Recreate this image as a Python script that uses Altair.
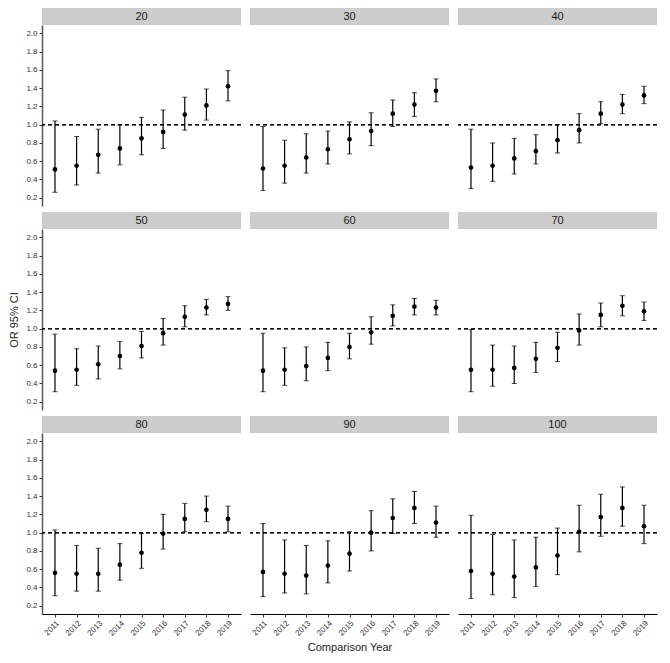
import altair as alt
import pandas as pd

years = ["2011", "2012", "2013", "2014", "2015", "2016", "2017", "2018", "2019"]
panels = [20, 30, 40, 50, 60, 70, 80, 90, 100]

or_est = {
    20:  [0.51, 0.55, 0.67, 0.74, 0.85, 0.92, 1.11, 1.21, 1.42],
    30:  [0.52, 0.55, 0.64, 0.73, 0.84, 0.93, 1.12, 1.22, 1.37],
    40:  [0.53, 0.55, 0.63, 0.71, 0.83, 0.94, 1.12, 1.22, 1.32],
    50:  [0.54, 0.55, 0.61, 0.70, 0.81, 0.95, 1.13, 1.23, 1.27],
    60:  [0.54, 0.55, 0.59, 0.68, 0.80, 0.96, 1.14, 1.24, 1.23],
    70:  [0.55, 0.55, 0.57, 0.67, 0.79, 0.98, 1.15, 1.25, 1.19],
    80:  [0.56, 0.55, 0.55, 0.65, 0.78, 0.99, 1.15, 1.25, 1.15],
    90:  [0.57, 0.55, 0.53, 0.64, 0.77, 1.00, 1.16, 1.27, 1.11],
    100: [0.58, 0.55, 0.52, 0.62, 0.75, 1.01, 1.17, 1.27, 1.07],
}
ci_low = {
    20:  [0.26, 0.34, 0.47, 0.56, 0.67, 0.74, 0.94, 1.05, 1.26],
    30:  [0.28, 0.36, 0.47, 0.57, 0.68, 0.77, 0.98, 1.09, 1.25],
    40:  [0.30, 0.38, 0.46, 0.57, 0.69, 0.80, 1.01, 1.12, 1.23],
    50:  [0.31, 0.38, 0.45, 0.56, 0.68, 0.82, 1.02, 1.15, 1.20],
    60:  [0.31, 0.38, 0.43, 0.54, 0.67, 0.83, 1.03, 1.15, 1.15],
    70:  [0.31, 0.37, 0.40, 0.52, 0.64, 0.82, 1.02, 1.14, 1.09],
    80:  [0.31, 0.36, 0.36, 0.48, 0.61, 0.82, 1.01, 1.12, 1.01],
    90:  [0.30, 0.34, 0.33, 0.45, 0.58, 0.80, 0.99, 1.10, 0.95],
    100: [0.28, 0.32, 0.29, 0.41, 0.54, 0.79, 0.96, 1.07, 0.88],
}
ci_high = {
    20:  [1.04, 0.87, 0.95, 1.00, 1.08, 1.16, 1.30, 1.39, 1.59],
    30:  [0.98, 0.83, 0.90, 0.93, 1.03, 1.13, 1.27, 1.35, 1.50],
    40:  [0.95, 0.80, 0.85, 0.89, 1.00, 1.12, 1.25, 1.33, 1.42],
    50:  [0.94, 0.78, 0.81, 0.86, 0.97, 1.11, 1.25, 1.32, 1.35],
    60:  [0.95, 0.79, 0.80, 0.85, 0.95, 1.13, 1.26, 1.33, 1.31],
    70:  [0.99, 0.82, 0.81, 0.85, 0.96, 1.16, 1.28, 1.36, 1.29],
    80:  [1.03, 0.86, 0.83, 0.88, 0.99, 1.20, 1.32, 1.40, 1.29],
    90:  [1.10, 0.92, 0.86, 0.91, 1.01, 1.24, 1.37, 1.45, 1.29],
    100: [1.19, 0.98, 0.92, 0.95, 1.05, 1.30, 1.42, 1.50, 1.30],
}

y_ticks = [0.2, 0.4, 0.6, 0.8, 1.0, 1.2, 1.4, 1.6, 1.8, 2.0]

rows = []
for p in panels:
    for i, yr in enumerate(years):
        rows.append({"panel": p, "year": yr, "est": or_est[p][i],
                     "lo": ci_low[p][i], "hi": ci_high[p][i]})
df = pd.DataFrame(rows)

W = 199
H = 181
STRIP = 17
FONT = "Liberation Sans"


def panel_chart(idx, p):
    col = idx % 3
    row = idx // 3
    d = df[df["panel"] == p].copy()
    d["ref"] = 1.0

    if col == 0:
        yaxis = alt.Axis(values=y_ticks, format=".1f", title="OR 95% CI",
                         titleOpacity=1 if row == 1 else 0,
                         labelOverlap=False, labelFlush=False,
                         grid=False, domainColor="#555555", domainWidth=1.5,
                         tickColor="#333333", tickSize=3, labelColor="#333333",
                         labelFontSize=8, titleFontSize=11, titleFontWeight="normal",
                         titleColor="#222222", labelPadding=2, titlePadding=6)
    else:
        yaxis = None
    if row == 2:
        xaxis = alt.Axis(title="Comparison Year", titleOpacity=1 if col == 1 else 0,
                         labelAngle=-45, grid=False, domainColor="#000000",
                         labelOverlap=False,
                         tickColor="#333333", tickSize=3, labelColor="#333333",
                         labelFontSize=8, titleFontSize=11, titleFontWeight="normal",
                         titleColor="#222222", labelPadding=2, titlePadding=4)
    else:
        xaxis = None

    x = alt.X("year:O", scale=alt.Scale(type="point", padding=0.6, domain=years), axis=xaxis)
    yscale = alt.Scale(domain=[0.11, 2.09], nice=False, zero=False)

    def Y(field):
        return alt.Y(field, scale=yscale, axis=yaxis)

    base = alt.Chart(d)
    ref = base.mark_rule(color="#111111", strokeDash=[4, 3], strokeWidth=0.8).encode(
        y=Y("ref:Q"))
    bars = base.mark_rule(color="black", strokeWidth=1.2).encode(
        x=x, y=Y("lo:Q"), y2="hi:Q")
    cap_lo = base.mark_tick(color="black", size=5, thickness=1).encode(
        x=x, y=Y("lo:Q"))
    cap_hi = base.mark_tick(color="black", size=5, thickness=1).encode(
        x=x, y=Y("hi:Q"))
    pts = base.mark_circle(color="black", opacity=1, size=22).encode(
        x=x, y=Y("est:Q"))
    plot = alt.layer(ref, bars, cap_lo, cap_hi, pts).properties(width=W, height=H)

    strip_df = pd.DataFrame({"label": [str(p)]})
    sx = alt.X("label:N", axis=None, scale=alt.Scale(paddingInner=0, paddingOuter=0))
    strip_rect = alt.Chart(strip_df).mark_rect(color="#CCCCCC").encode(x=sx)
    strip_txt = alt.Chart(strip_df).mark_text(
        font=FONT, fontSize=11, color="#1A1A1A").encode(x=sx, text="label:N")
    strip = alt.layer(strip_rect, strip_txt).properties(width=W, height=STRIP)

    return alt.vconcat(strip, plot, spacing=0)


charts = [panel_chart(i, p) for i, p in enumerate(panels)]
rows_c = [alt.hconcat(*charts[r * 3:(r + 1) * 3], spacing=7) for r in range(3)]
chart = alt.vconcat(*rows_c, spacing=6).properties(padding=0).configure(
    font=FONT).configure_view(strokeWidth=0, stroke="transparent")

chart.save("out.html", embed_options={"renderer": "svg", "actions": False})
